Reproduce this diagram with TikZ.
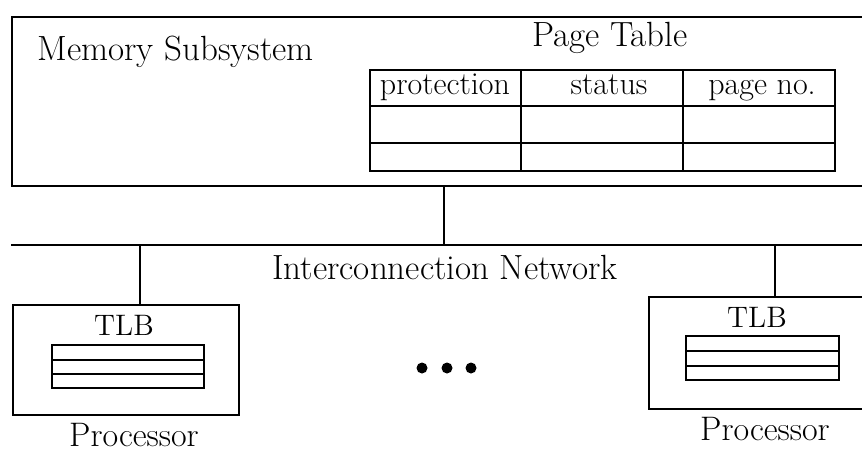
\documentclass[tikz,border=0pt]{standalone}
\begin{document}
\begin{tikzpicture}[x=0.5pt,y=-0.5pt,
  wire/.style={line width=1.4pt},
  drop/.style={line width=1.1pt},
  gridline/.style={line width=1pt},
  box/.style={draw, line width=1.3pt, inner sep=0pt, outer sep=0pt},
  lbl/.style={font=\fontsize{17.5}{20}\selectfont, inner sep=0pt, anchor=base},
  hdr/.style={font=\fontsize{16}{19}\selectfont, inner sep=0pt, anchor=base},
  tlbtxt/.style={font=\fontsize{14.8}{17}\selectfont, inner sep=0pt, anchor=base},
  proclbl/.style={font=\fontsize{17}{20}\selectfont, inner sep=0pt, anchor=base},
  dot/.style={circle, fill, inner sep=0pt, minimum size=5.5pt}
]
\clip (0,0) rectangle (862,456);

% memory subsystem (open to the right)
\node[box, minimum width=434pt, minimum height=84.5pt] (mem) at (446,101.5) {};
\node[lbl, anchor=base west] (memlbl) at (37,60) {Memory Subsystem};
\node[lbl] (ptlbl) at (610,46) {Page Table};

% page table
\coordinate (ptNW) at (370,70);
\coordinate (ptSE) at (835,170.5);
\draw[gridline] (ptNW) rectangle (ptSE);
\draw[gridline] (370,105.5) -- (835,105.5);
\draw[gridline] (370,142.5) -- (835,142.5);
\draw[gridline] (521,70) -- (521,170.5);
\draw[gridline] (683,70) -- (683,170.5);
\node[hdr] (hprot) at (445,94) {protection};
\node[hdr] (hstat) at (609,94) {status};
\node[hdr] (hpage) at (762,94) {page no.};

% interconnection network bus
\coordinate (netL) at (11,245);
\coordinate (netR) at (880,245);
\coordinate (netM) at (444,245);
\draw[wire] (netL) -- (netR);
\draw[wire] (netM |- mem.south) -- (netM);
\node[lbl] (netlbl) at (445,279) {Interconnection Network};

% left processor
\node[box, minimum width=113pt, minimum height=55pt] (p1) at (126,360) {};
\coordinate (n1) at (140,245);
\draw[drop] (n1) -- (n1 |- p1.north);
\node[tlbtxt] (tlb1) at (124,335) {TLB};
\draw[gridline] (52,345) rectangle (204,388);
\draw[gridline] (52,360) -- (204,360);
\draw[gridline] (52,374) -- (204,374);
\node[proclbl] (proc1) at (134,446) {Processor};

% right processor (open to the right)
\node[box, minimum width=115.5pt, minimum height=56pt] (p2) at (764.5,353) {};
\coordinate (n2) at (775,245);
\draw[drop] (n2) -- (n2 |- p2.north);
\node[tlbtxt] (tlb2) at (757,327) {TLB};
\draw[gridline] (686,336) rectangle (839,380);
\draw[gridline] (686,351) -- (839,351);
\draw[gridline] (686,366) -- (839,366);
\node[proclbl] (proc2) at (765,440) {Processor};

% ellipsis between processors
\node[dot] (d1) at (422,368) {};
\node[dot] (d2) at (447,368) {};
\node[dot] (d3) at (471,368) {};
\end{tikzpicture}
\end{document}
